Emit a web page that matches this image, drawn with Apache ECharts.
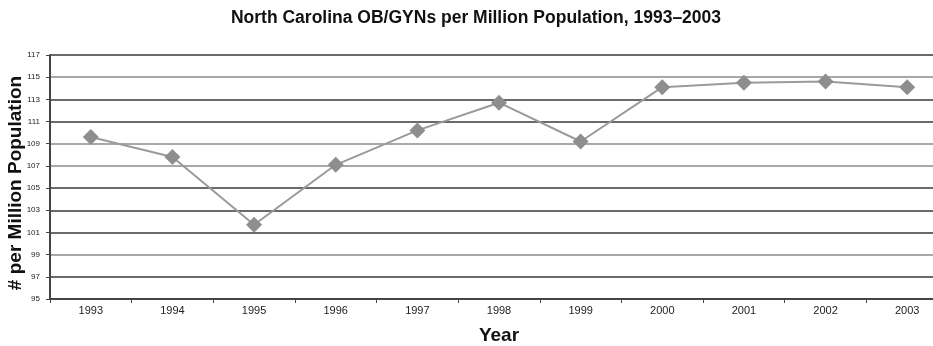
<!DOCTYPE html>
<html>
<head>
<meta charset="utf-8">
<script src="https://cdn.jsdelivr.net/npm/echarts@6/dist/echarts.min.js"></script>
<style>html,body{margin:0;padding:0;background:#fff}#c{width:933px;height:346px}</style>
</head>
<body>
<div id="c"></div>
<script>
const years = ['1993','1994','1995','1996','1997','1998','1999','2000','2001','2002','2003'];
const obgynPerMillion = [109.6, 107.8, 101.7, 107.1, 110.2, 112.7, 109.2, 114.1, 114.5, 114.6, 114.1];
const yTicks = [95, 97, 99, 101, 103, 105, 107, 109, 111, 113, 115, 117];
const gridColors = ['#6a6a6a','#6a6a6a','#a8a8a8','#6a6a6a','#6a6a6a','#6a6a6a','#a8a8a8','#a8a8a8','#6a6a6a','#6a6a6a','#a8a8a8','#6a6a6a'];

const chart = echarts.init(document.getElementById('c'), null, {renderer: 'canvas'});
chart.setOption({
  animation: false,
  backgroundColor: '#fff',
  title: {
    text: 'North Carolina OB/GYNs per Million Population, 1993\u20132003',
    left: 471, top: 4, textAlign: 'center',
    textStyle: {fontFamily: 'Liberation Sans', fontWeight: 'bold', fontSize: 17.5, color: '#111'}
  },
  grid: {left: 50, right: -15, top: 55, bottom: 47, outerBoundsMode: 'none', containLabel: false},
  xAxis: {
    type: 'category',
    data: years,
    name: 'Year',
    nameLocation: 'middle',
    nameGap: 27,
    nameTextStyle: {fontFamily: 'Liberation Sans', fontWeight: 'bold', fontSize: 19, color: '#111'},
    axisLine: {lineStyle: {color: '#444', width: 2}},
    axisTick: {show: true, length: 4, lineStyle: {color: '#444'}},
    axisLabel: {fontFamily: 'Liberation Sans', fontSize: 11, color: '#222', margin: 6}
  },
  yAxis: {
    type: 'value',
    min: 95, max: 117,
    name: '# per Million Population',
    nameLocation: 'middle',
    nameGap: 25,
    nameMoveOverlap: false,
    nameTextStyle: {fontFamily: 'Liberation Sans', fontWeight: 'bold', fontSize: 19, color: '#111', padding: [0, 12, 0, 0]},
    axisLine: {show: true, lineStyle: {color: '#444', width: 2}},
    axisTick: {show: true, length: 4, customValues: yTicks, lineStyle: {color: '#444'}},
    axisLabel: {customValues: yTicks, fontFamily: 'Liberation Sans', fontSize: 8, color: '#222', margin: 10},
    splitLine: {show: true, lineStyle: {color: gridColors, width: 2}}
  },
  series: [{
    type: 'line',
    data: obgynPerMillion,
    symbol: 'diamond',
    symbolSize: 16,
    itemStyle: {color: '#8e8e8e'},
    lineStyle: {color: '#9a9a9a', width: 2}
  }]
});
</script>
</body>
</html>
